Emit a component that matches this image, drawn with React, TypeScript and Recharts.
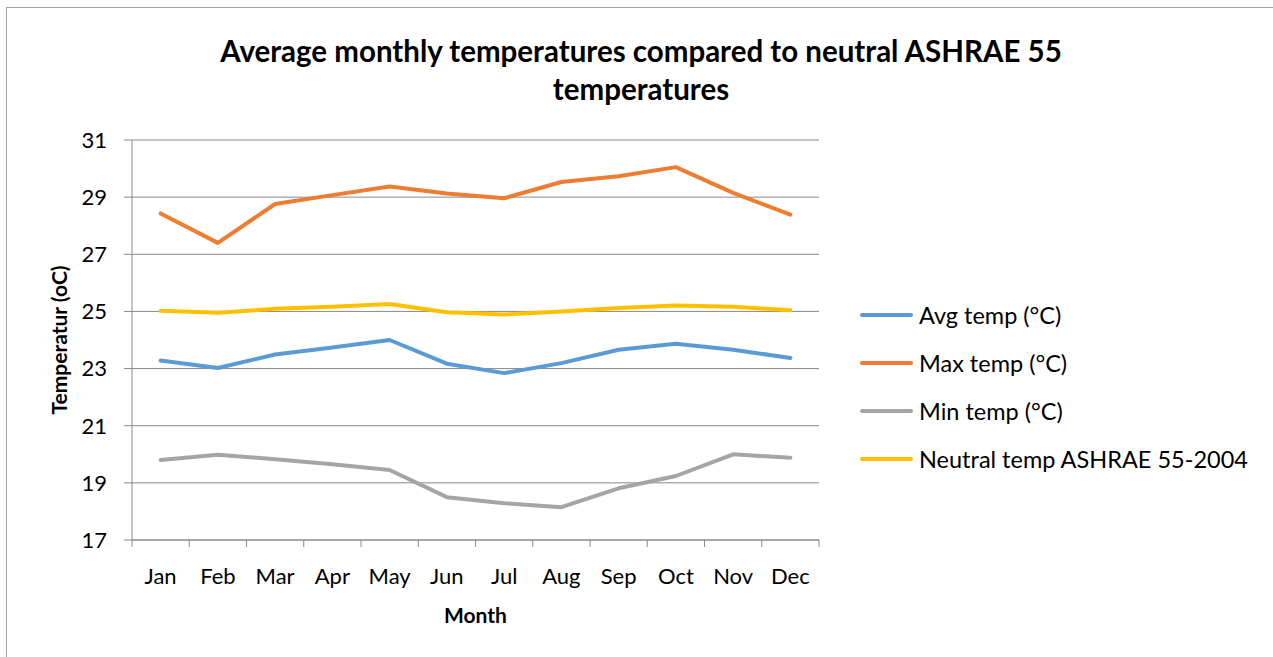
import { CartesianGrid, Line, LineChart, XAxis, YAxis } from "recharts";

const months = ["Jan", "Feb", "Mar", "Apr", "May", "Jun", "Jul", "Aug", "Sep", "Oct", "Nov", "Dec"];
const avgTemp = [23.28, 23.02, 23.49, 23.74, 24.0, 23.17, 22.84, 23.19, 23.66, 23.87, 23.66, 23.37];
const maxTemp = [28.43, 27.4, 28.76, 29.07, 29.37, 29.13, 28.96, 29.53, 29.73, 30.05, 29.15, 28.39];
const minTemp = [19.8, 19.98, 19.83, 19.65, 19.45, 18.5, 18.29, 18.15, 18.81, 19.24, 20.0, 19.88];
const neutralTemp = [25.02, 24.95, 25.09, 25.16, 25.26, 24.97, 24.89, 25.0, 25.12, 25.21, 25.16, 25.04];
const yTicks = [17, 19, 21, 23, 25, 27, 29, 31];

const chartData = months.map((month, i) => ({
  month,
  avg: avgTemp[i],
  max: maxTemp[i],
  min: minTemp[i],
  neutral: neutralTemp[i],
}));

const series = [
  { key: "avg", name: "Avg temp (°C)", color: "#5B9BD5" },
  { key: "max", name: "Max temp (°C)", color: "#ED7D31" },
  { key: "min", name: "Min temp (°C)", color: "#A5A5A5" },
  { key: "neutral", name: "Neutral temp ASHRAE 55-2004", color: "#FFC000" },
];

const FONT = "Lato, 'Open Sans', sans-serif";
const AXIS = "#8a8a8a";

function MonthTick(props: any) {
  const { x, y, payload } = props;
  const half = payload.offset ?? 0;
  const axisY = y - 28;
  const isLast = payload.value === months[months.length - 1];
  return (
    <g>
      <line x1={x - half} x2={x - half} y1={axisY} y2={axisY + 7} stroke={AXIS} />
      {isLast && <line x1={x + half} x2={x + half} y1={axisY} y2={axisY + 7} stroke={AXIS} />}
      <text x={x} y={y} dy="0.71em" textAnchor="middle" fill="#000" fontSize={22} fontFamily={FONT}>
        {payload.value}
      </text>
    </g>
  );
}

export default function App() {
  return (
    <div style={{ position: "absolute", left: 0, top: 0, width: 1273, height: 657, overflow: "hidden", background: "#fff" }}>
      <div
        style={{
          position: "absolute",
          left: 6,
          top: 7,
          width: 1300,
          height: 700,
          border: "1px solid #a6a6a6",
          boxSizing: "border-box",
        }}
      />
      <div
        style={{
          position: "absolute",
          left: 0,
          top: 32,
          width: 1282,
          textAlign: "center",
          fontFamily: FONT,
          fontWeight: 700,
          fontSize: 29.5,
          lineHeight: "38px",
          color: "#000",
        }}
      >
        Average monthly temperatures compared to neutral ASHRAE 55
        <br />
        temperatures
      </div>
      <LineChart
        width={1273}
        height={657}
        data={chartData}
        margin={{ top: 140, right: 454, bottom: 87, left: 72 }}
        style={{ position: "absolute", left: 0, top: 0 }}
      >
        <CartesianGrid vertical={false} stroke={AXIS} />
        <XAxis
          dataKey="month"
          scale="band"
          height={30}
          tickLine={false}
          tickSize={6}
          tickMargin={22}
          axisLine={{ stroke: AXIS }}
          tick={<MonthTick />}
          interval={0}
          label={{ value: "Month", position: "insideBottom", offset: -53, fill: "#000", fontSize: 21, fontWeight: 700, fontFamily: FONT }}
        />
        <YAxis
          type="number"
          domain={[17, 31]}
          ticks={yTicks}
          width={60}
          tickSize={8}
          tickMargin={17}
          axisLine={{ stroke: AXIS }}
          tickLine={{ stroke: AXIS }}
          tick={{ fill: "#000", fontSize: 22, fontFamily: FONT }}
          label={{
            content: ({ viewBox }: any) => {
              const cy = viewBox.y + viewBox.height / 2;
              return (
                <text
                  x={58}
                  y={cy}
                  transform={`rotate(-90, 58, ${cy})`}
                  textAnchor="middle"
                  dominantBaseline="central"
                  fill="#000"
                  fontSize={21}
                  fontWeight={700}
                  fontFamily={FONT}
                >
                  Temperatur (oC)
                </text>
              );
            },
          }}
        />
        {series.map((s) => (
          <Line
            key={s.key}
            name={s.name}
            dataKey={s.key}
            stroke={s.color}
            strokeWidth={4}
            strokeLinecap="round"
            strokeLinejoin="round"
            dot={false}
            isAnimationActive={false}
          />
        ))}
      </LineChart>
      <div style={{ position: "absolute", left: 860, top: 291, fontFamily: FONT, fontSize: 23.5, color: "#000" }}>
        {series.map((s) => (
          <div key={s.key} style={{ display: "flex", alignItems: "center", height: 48 }}>
            <span style={{ width: 53, height: 4, background: s.color, borderRadius: 2, marginRight: 6 }} />
            <span style={{ whiteSpace: "nowrap" }}>{s.name}</span>
          </div>
        ))}
      </div>
    </div>
  );
}
